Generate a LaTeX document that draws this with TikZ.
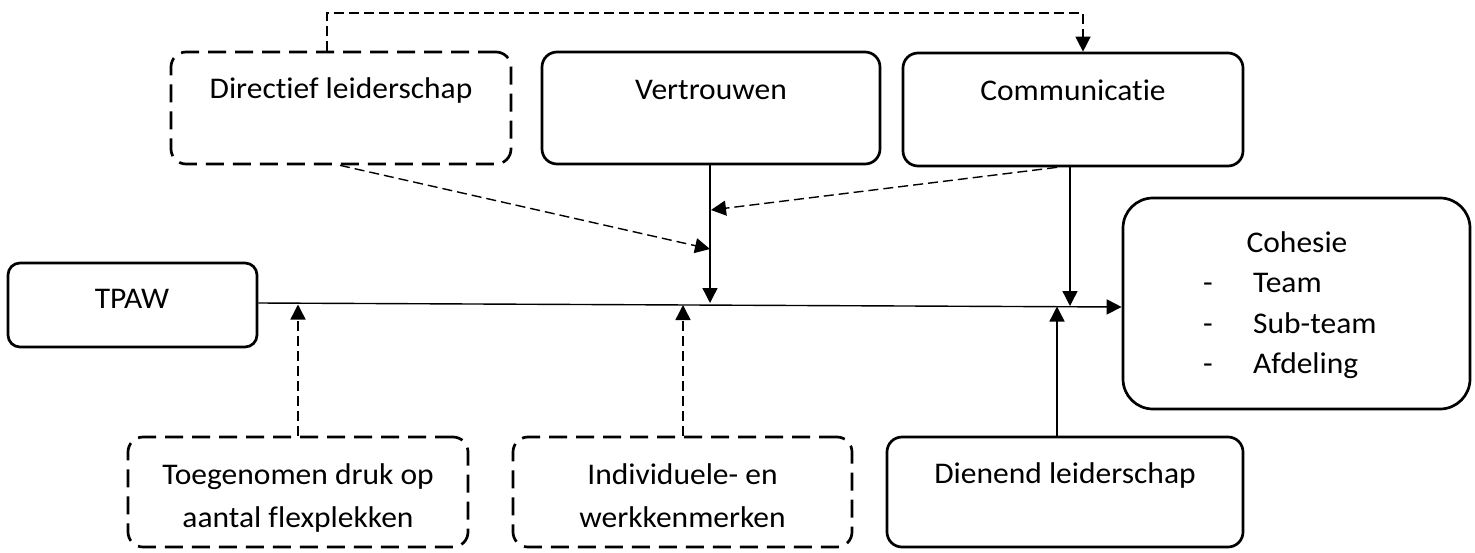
\documentclass[tikz,border=0pt]{standalone}
\usepackage{fontspec}
\setmainfont{Carlito}[FakeStretch=1.05,Ligatures=NoCommon]
\usetikzlibrary{arrows.meta}
\begin{document}
\begin{tikzpicture}[x=1pt,y=-1pt,
  box/.style={draw, line width=2.7pt, rounded corners=15pt, inner sep=0pt},
  dbox/.style={box, dash pattern=on 18pt off 9pt},
  txt/.style={font=\fontsize{30}{43}\selectfont, anchor=base, inner sep=0pt, align=center},
  conn/.style={line width=1.4pt, -{Triangle[length=15pt,width=15pt]}},
  dconn/.style={conn, dash pattern=on 10pt off 5pt}]
\useasboundingbox (0,0) rectangle (1475,552);

% boxes
\node[dbox, minimum width=340pt, minimum height=112pt] (dir) at (341,108) {};
\node[box, minimum width=338pt, minimum height=112pt] (ver) at (711,108) {};
\node[box, minimum width=340pt, minimum height=113pt] (com) at (1073,109.5) {};
\node[box, rounded corners=12pt, minimum width=249pt, minimum height=84pt] (tpaw) at (132.5,305) {};
\node[box, rounded corners=30pt, minimum width=347pt, minimum height=211pt] (coh) at (1296.5,303.5) {};
\node[dbox, minimum width=340pt, minimum height=110pt] (toe) at (298,492) {};
\node[dbox, minimum width=339pt, minimum height=110pt] (ind) at (682.5,492) {};
\node[box, minimum width=356pt, minimum height=110pt] (die) at (1065,492) {};

% texts
\node[txt] (dirT) at (341,98) {Directief leiderschap};
\node[txt] (verT) at (711,99) {Vertrouwen};
\node[txt] (comT) at (1073,100) {Communicatie};
\node[txt] (tpawT) at (132,308) {TPAW};
\node[txt] (cohT) at (1297,252) {Cohesie};
\node[txt] (d1) at (1208,292.5) {-};
\node[txt, anchor=base west] (i1) at (1253,292.5) {Team};
\node[txt] (d2) at (1208,333) {-};
\node[txt, anchor=base west] (i2) at (1253,333) {Sub-team};
\node[txt] (d3) at (1208,373.5) {-};
\node[txt, anchor=base west] (i3) at (1253,373.5) {Afdeling};
\node[txt] (toeT) at (298,527) {Toegenomen druk op\\aantal flexplekken};
\node[txt] (indT) at (682.5,527) {Individuele- en\\werkkenmerken};
\node[txt] (dieT) at (1065,483) {Dienend leiderschap};

% connectors
\coordinate (t1) at (1083,13);
\draw[dconn] ([xshift=-14pt]dir.north) |- (t1) -- ([xshift=10pt]com.north);
\coordinate (j1) at (710,249);
\draw[dconn] ([xshift=-1pt]dir.south) -- (j1);
\coordinate (m1) at (710,303);
\draw[conn] ([xshift=-1pt]ver.south) -- (m1);
\coordinate (j2) at (711,210);
\draw[dconn] ([xshift=-16pt]com.south) -- (j2);
\coordinate (m2) at (1070,306);
\draw[conn] ([xshift=-3pt]com.south) -- (m2);
\draw[conn] ([yshift=2pt]tpaw.east) -- ([yshift=-3.5pt]coh.west);
\coordinate (m3) at (298,304.5);
\draw[dconn] (toe.north) -- (m3);
\coordinate (m4) at (683,305);
\draw[dconn] ([xshift=0.5pt]ind.north) -- (m4);
\coordinate (m5) at (1057,306.5);
\draw[conn] ([xshift=-8pt]die.north) -- (m5);
\end{tikzpicture}
\end{document}
